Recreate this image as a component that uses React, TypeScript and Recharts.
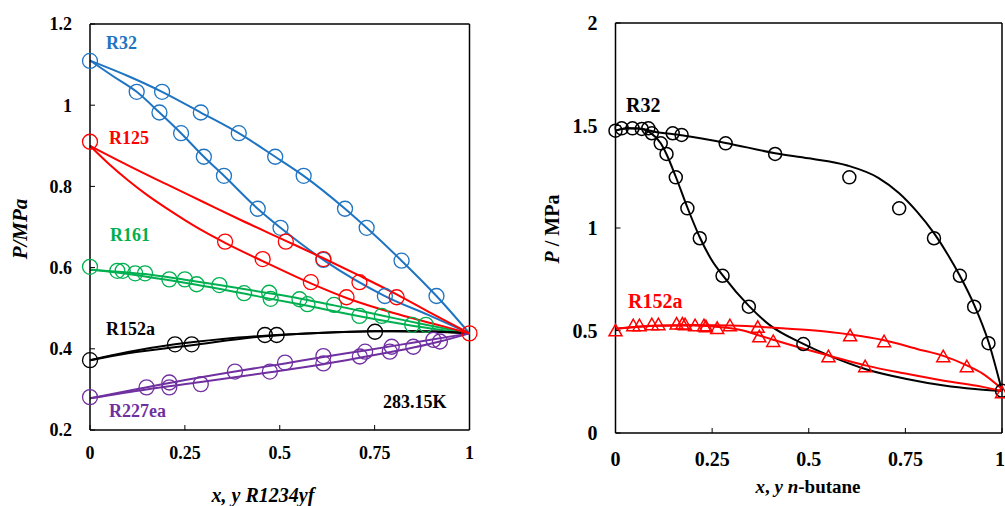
import React from 'react';
import { ComposedChart, Line, Scatter, XAxis, YAxis, ReferenceLine } from 'recharts';

// [x, P/MPa] pairs
const r32CalcBubble = [[0, 1.11], [0.1, 1.072], [0.19, 1.033], [0.292, 0.982], [0.392, 0.931], [0.488, 0.873], [0.563, 0.826], [0.672, 0.745], [0.729, 0.698], [0.821, 0.617], [0.913, 0.53], [1, 0.438]];
const r32CalcDew = [[0, 1.11], [0.06, 1.072], [0.123, 1.033], [0.183, 0.982], [0.24, 0.931], [0.3, 0.873], [0.353, 0.826], [0.442, 0.745], [0.502, 0.698], [0.615, 0.619], [0.777, 0.53], [0.9, 0.48], [1, 0.438]];
const r32Exp = [[0, 1.109], [0.19, 1.033], [0.292, 0.982], [0.392, 0.931], [0.488, 0.873], [0.563, 0.826], [0.672, 0.745], [0.729, 0.698], [0.821, 0.617], [0.913, 0.53], [0.123, 1.033], [0.183, 0.982], [0.24, 0.931], [0.3, 0.873], [0.353, 0.826], [0.442, 0.745], [0.502, 0.698], [0.615, 0.619], [0.777, 0.53]];

const r125CalcBubble = [[0, 0.9], [0.1, 0.852], [0.2, 0.806], [0.3, 0.761], [0.4, 0.716], [0.516, 0.666], [0.615, 0.623], [0.71, 0.58], [0.808, 0.534], [0.9, 0.487], [1, 0.438]];
const r125CalcDew = [[0, 0.9], [0.05, 0.855], [0.1, 0.815], [0.15, 0.779], [0.2, 0.747], [0.25, 0.717], [0.3, 0.689], [0.356, 0.661], [0.455, 0.616], [0.582, 0.561], [0.676, 0.525], [0.8, 0.488], [0.9, 0.463], [1, 0.438]];
const r125Exp = [[0, 0.91], [0.356, 0.664], [0.516, 0.664], [0.455, 0.621], [0.615, 0.621], [0.582, 0.564], [0.71, 0.564], [0.676, 0.527], [0.808, 0.527], [1, 0.438]];

const r161CalcBubble = [[0, 0.595], [0.145, 0.584], [0.25, 0.57], [0.341, 0.557], [0.472, 0.537], [0.552, 0.524], [0.643, 0.507], [0.769, 0.482], [0.885, 0.459], [1, 0.438]];
const r161CalcDew = [[0, 0.595], [0.119, 0.582], [0.209, 0.569], [0.281, 0.558], [0.406, 0.536], [0.476, 0.523], [0.573, 0.506], [0.71, 0.48], [0.849, 0.457], [1, 0.438]];
const r161Exp = [[0, 0.602], [0.072, 0.592], [0.086, 0.592], [0.119, 0.586], [0.145, 0.586], [0.209, 0.571], [0.25, 0.571], [0.281, 0.559], [0.341, 0.557], [0.406, 0.537], [0.472, 0.538], [0.476, 0.523], [0.552, 0.522], [0.573, 0.51], [0.643, 0.508], [0.71, 0.481], [0.769, 0.481], [0.849, 0.459], [0.885, 0.459]];

const r152aCalcBubble = [[0, 0.372], [0.1, 0.392], [0.224, 0.411], [0.35, 0.424], [0.492, 0.434], [0.65, 0.441], [0.8, 0.444], [0.9, 0.443], [1, 0.438]];
const r152aCalcDew = [[0, 0.372], [0.1, 0.389], [0.268, 0.409], [0.461, 0.431], [0.6, 0.439], [0.75, 0.443], [0.9, 0.442], [1, 0.438]];
const r152aExp = [[0, 0.372], [0.224, 0.411], [0.268, 0.411], [0.461, 0.434], [0.492, 0.434], [0.751, 0.442]];

const r227eaCalcBubble = [[0, 0.278], [0.209, 0.316], [0.382, 0.344], [0.514, 0.364], [0.615, 0.38], [0.725, 0.396], [0.85, 0.415], [1, 0.438]];
const r227eaCalcDew = [[0, 0.278], [0.149, 0.3], [0.292, 0.318], [0.474, 0.342], [0.615, 0.362], [0.711, 0.378], [0.852, 0.403], [0.922, 0.418], [1, 0.438]];
const r227eaExp = [[0, 0.281], [0.149, 0.305], [0.209, 0.317], [0.209, 0.305], [0.292, 0.313], [0.382, 0.344], [0.474, 0.344], [0.514, 0.366], [0.615, 0.382], [0.615, 0.364], [0.711, 0.381], [0.725, 0.393], [0.79, 0.393], [0.795, 0.405], [0.852, 0.405], [0.905, 0.422], [0.922, 0.418]];

// right panel: R32 / R152a + n-butane
const butR32CalcBubble = [[0, 1.475], [0.03, 1.487], [0.06, 1.485], [0.09, 1.465], [0.117, 1.413], [0.132, 1.36], [0.156, 1.25], [0.186, 1.1], [0.218, 0.955], [0.25, 0.84], [0.277, 0.77], [0.345, 0.62], [0.4, 0.525], [0.486, 0.435], [0.55, 0.38], [0.65, 0.31], [0.75, 0.265], [0.85, 0.232], [0.93, 0.215], [1, 0.205]];
const butR32CalcDew = [[0, 1.475], [0.03, 1.487], [0.06, 1.485], [0.1, 1.47], [0.171, 1.452], [0.285, 1.415], [0.413, 1.365], [0.5, 1.34], [0.6, 1.305], [0.68, 1.245], [0.734, 1.17], [0.78, 1.08], [0.824, 0.975], [0.86, 0.87], [0.891, 0.767], [0.928, 0.625], [0.965, 0.445], [1, 0.205]];
const butR32Exp = [[0, 1.475], [0.016, 1.486], [0.044, 1.486], [0.068, 1.483], [0.085, 1.486], [0.094, 1.462], [0.117, 1.413], [0.132, 1.361], [0.156, 1.247], [0.186, 1.096], [0.218, 0.95], [0.277, 0.767], [0.345, 0.616], [0.486, 0.434], [0.148, 1.462], [0.171, 1.454], [0.285, 1.413], [0.413, 1.361], [0.605, 1.247], [0.734, 1.096], [0.824, 0.95], [0.891, 0.767], [0.928, 0.616], [0.965, 0.438], [1, 0.206]];

const butR152aCalcBubble = [[0, 0.508], [0.1, 0.523], [0.2, 0.527], [0.3, 0.524], [0.4, 0.515], [0.5, 0.502], [0.607, 0.48], [0.695, 0.452], [0.78, 0.41], [0.848, 0.376], [0.909, 0.33], [0.95, 0.29], [1, 0.215]];
const butR152aCalcDew = [[0, 0.508], [0.1, 0.523], [0.2, 0.525], [0.28, 0.515], [0.33, 0.5], [0.372, 0.476], [0.408, 0.455], [0.48, 0.415], [0.551, 0.378], [0.646, 0.33], [0.75, 0.29], [0.85, 0.255], [0.95, 0.225], [1, 0.205]];
const butR152aExp = [[0, 0.502], [0.046, 0.527], [0.062, 0.527], [0.094, 0.532], [0.111, 0.532], [0.158, 0.535], [0.173, 0.535], [0.18, 0.532], [0.206, 0.527], [0.229, 0.527], [0.234, 0.522], [0.263, 0.514], [0.296, 0.527], [0.368, 0.519], [0.372, 0.473], [0.408, 0.45], [0.551, 0.376], [0.646, 0.327], [0.607, 0.478], [0.695, 0.449], [0.848, 0.376], [0.909, 0.327], [1, 0.2]];

const leftXTicks = [0, 0.25, 0.5, 0.75, 1];
const leftYTicks = [0.2, 0.4, 0.6, 0.8, 1, 1.2];
const rightXTicks = [0, 0.25, 0.5, 0.75, 1];
const rightYTicks = [0, 0.5, 1, 1.5, 2];

const BLUE = '#1F74C2';
const RED = '#FF0000';
const GREEN = '#00B050';
const PURPLE = '#7030A0';
const BLACK = '#000000';
const FONT = '"Liberation Serif", "Times New Roman", serif';

const toPts = (a: number[][]) => a.map(([x, p]) => ({ x, p }));

const ring = (color: string, r: number, w: number) => (props: any) => (
  <circle cx={props.cx} cy={props.cy} r={r} fill="none" stroke={color} strokeWidth={w} />
);

const triangle = (color: string) => (props: any) => {
  const { cx, cy } = props;
  const h = 11.5;
  const s = 13;
  return (
    <polygon
      points={`${cx},${cy - h / 2} ${cx - s / 2},${cy + h / 2} ${cx + s / 2},${cy + h / 2}`}
      fill="none"
      stroke={color}
      strokeWidth={1.5}
    />
  );
};

const curve = (key: string, data: number[][], color: string) => (
  <Line
    key={key}
    data={toPts(data)}
    dataKey="p"
    type="monotone"
    stroke={color}
    strokeWidth={2}
    dot={false}
    activeDot={false}
    isAnimationActive={false}
  />
);

const label = (text: React.ReactNode, left: number, top: number, color: string, size: number) => (
  <div
    style={{
      position: 'absolute',
      left,
      top,
      transform: 'translateY(-50%)',
      color,
      fontFamily: FONT,
      fontWeight: 'bold',
      fontSize: size,
      lineHeight: 1,
      whiteSpace: 'nowrap',
    }}
  >
    {text}
  </div>
);

const title = (text: React.ReactNode, cx: number, cy: number, size: number, rotate: boolean) => (
  <div
    style={{
      position: 'absolute',
      left: cx,
      top: cy,
      transform: `translate(-50%, -50%)${rotate ? ' rotate(-90deg)' : ''}`,
      fontFamily: FONT,
      fontWeight: 'bold',
      fontSize: size,
      lineHeight: 1,
      whiteSpace: 'nowrap',
      color: BLACK,
    }}
  >
    {text}
  </div>
);

export default function App() {
  const leftTick = { fill: BLACK, fontFamily: FONT, fontWeight: 'bold', fontSize: 18 } as any;
  const rightTick = { fill: BLACK, fontFamily: FONT, fontWeight: 'bold', fontSize: 20 } as any;
  return (
    <div style={{ position: 'absolute', left: 0, top: 0, width: 1005, height: 506, background: '#fff', overflow: 'hidden' }}>
      <div style={{ position: 'absolute', left: 0, top: 0 }}>
        <ComposedChart width={500} height={506} margin={{ top: 24, right: 30.5, bottom: 46, left: 0 }}>
          <XAxis
            type="number"
            dataKey="x"
            domain={[0, 1]}
            ticks={leftXTicks}
            height={30}
            tick={leftTick}
            tickSize={-5}
            tickMargin={21}
            axisLine={{ stroke: BLACK, strokeWidth: 1.5 }}
            tickLine={{ stroke: BLACK }}
          />
          <YAxis
            type="number"
            dataKey="p"
            domain={[0.2, 1.2]}
            ticks={leftYTicks}
            width={90}
            tick={leftTick}
            tickSize={-5}
            tickMargin={23}
            axisLine={{ stroke: BLACK, strokeWidth: 1.5 }}
            tickLine={{ stroke: BLACK }}
          />
          <ReferenceLine y={1.2} stroke={BLACK} strokeWidth={1.5} />
          <ReferenceLine x={1} stroke={BLACK} strokeWidth={1.5} />
          {curve('a1', r32CalcBubble, BLUE)}
          {curve('a2', r32CalcDew, BLUE)}
          {curve('b1', r161CalcBubble, GREEN)}
          {curve('b2', r161CalcDew, GREEN)}
          {curve('c1', r152aCalcBubble, BLACK)}
          {curve('c2', r152aCalcDew, BLACK)}
          {curve('d1', r227eaCalcBubble, PURPLE)}
          {curve('d2', r227eaCalcDew, PURPLE)}
          {curve('e1', r125CalcBubble, RED)}
          {curve('e2', r125CalcDew, RED)}
          <Scatter data={toPts(r32Exp)} dataKey="p" shape={ring(BLUE, 7.5, 1.3)} isAnimationActive={false} />
          <Scatter data={toPts(r161Exp)} dataKey="p" shape={ring(GREEN, 7.5, 1.3)} isAnimationActive={false} />
          <Scatter data={toPts(r152aExp)} dataKey="p" shape={ring(BLACK, 7.5, 1.3)} isAnimationActive={false} />
          <Scatter data={toPts(r227eaExp)} dataKey="p" shape={ring(PURPLE, 7.5, 1.3)} isAnimationActive={false} />
          <Scatter data={toPts(r125Exp)} dataKey="p" shape={ring(RED, 7.5, 1.3)} isAnimationActive={false} />
        </ComposedChart>
      </div>
      <div style={{ position: 'absolute', left: 500, top: 0 }}>
        <ComposedChart width={505} height={506} margin={{ top: 23, right: 3, bottom: 43, left: 0 }}>
          <XAxis
            type="number"
            dataKey="x"
            domain={[0, 1]}
            ticks={rightXTicks}
            height={30}
            tick={rightTick}
            tickSize={-5}
            tickMargin={24}
            axisLine={{ stroke: BLACK, strokeWidth: 1.5 }}
            tickLine={{ stroke: BLACK }}
          />
          <YAxis
            type="number"
            dataKey="p"
            domain={[0, 2]}
            ticks={rightYTicks}
            width={115.5}
            tick={rightTick}
            tickSize={-5}
            tickMargin={23}
            axisLine={{ stroke: BLACK, strokeWidth: 1.5 }}
            tickLine={{ stroke: BLACK }}
          />
          <ReferenceLine y={2} stroke={BLACK} strokeWidth={1.5} />
          <ReferenceLine x={1} stroke={BLACK} strokeWidth={1.5} />
          {curve('f1', butR32CalcBubble, BLACK)}
          {curve('f2', butR32CalcDew, BLACK)}
          {curve('g1', butR152aCalcBubble, RED)}
          {curve('g2', butR152aCalcDew, RED)}
          <Scatter data={toPts(butR32Exp)} dataKey="p" shape={ring(BLACK, 6.5, 1.5)} isAnimationActive={false} />
          <Scatter data={toPts(butR152aExp)} dataKey="p" shape={triangle(RED)} isAnimationActive={false} />
        </ComposedChart>
      </div>

      {label('R32', 106, 43, BLUE, 18)}
      {label('R125', 109, 138, RED, 18)}
      {label('R161', 110, 235, GREEN, 18)}
      {label('R152a', 106, 329, BLACK, 18)}
      {label('R227ea', 109, 411, PURPLE, 18)}
      {label('283.15K', 383, 402, BLACK, 18)}
      {label('R32', 626, 105, BLACK, 20)}
      {label('R152a', 628, 301, RED, 20)}

      {title(<i>P/MPa</i>, 20, 229, 21, true)}
      {title(<i>x, y R1234yf</i>, 263, 495, 20, false)}
      {title(<span><i>P</i> / MPa</span>, 552, 229, 20, true)}
      {title(<span><i>x</i>, <i>y</i> <i>n</i>-butane</span>, 808, 486, 19, false)}
    </div>
  );
}
